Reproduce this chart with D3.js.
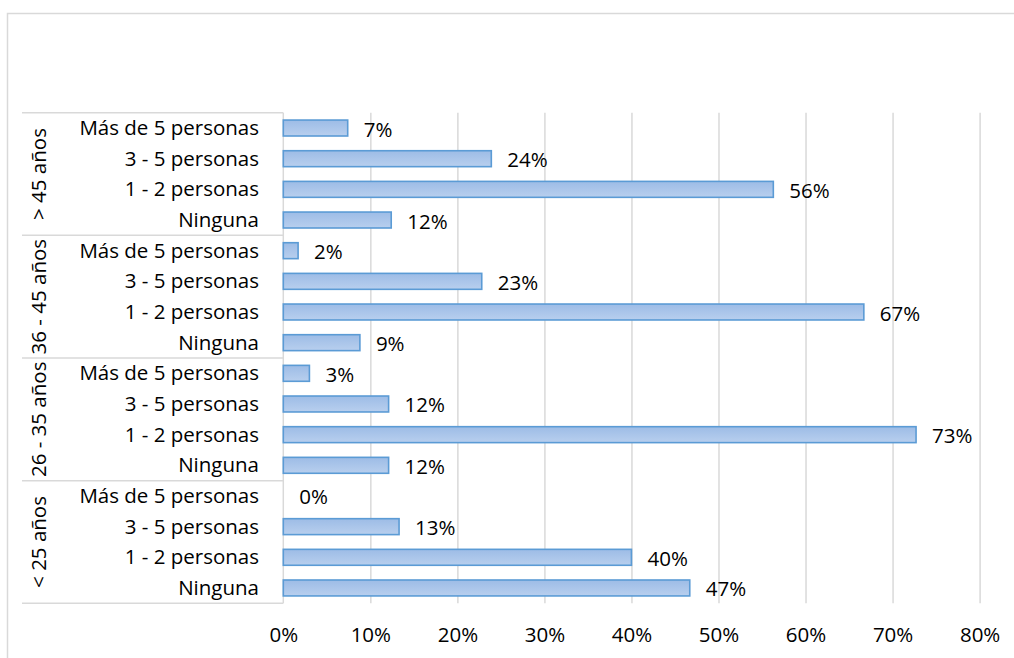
<!DOCTYPE html>
<html>
<head>
<meta charset="utf-8">
<script src="https://cdn.jsdelivr.net/npm/d3@7"></script>
<style>
  html, body { margin: 0; padding: 0; background: #fff; }
  svg { display: block; }
  text { font-family: "Open Sans", "Noto Sans", sans-serif; }
</style>
</head>
<body>
<svg id="chart" width="1014" height="658"></svg>
<script>
// ---- data (bottom-to-top order as in the source chart) ----
const groups = ["< 25 años", "26 - 35 años", "36 - 45 años", "> 45 años"];
const categories = ["Ninguna", "1 - 2 personas", "3 - 5 personas", "Más de 5 personas"];
const valuesMenos25 = [0.467, 0.400, 0.133, 0.000];
const values26a35   = [0.121, 0.727, 0.121, 0.030];
const values36a45   = [0.088, 0.667, 0.228, 0.017];
const valuesMas45   = [0.124, 0.563, 0.239, 0.074];
const tickValues = [0, 0.1, 0.2, 0.3, 0.4, 0.5, 0.6, 0.7, 0.8];

const seriesByGroup = [valuesMenos25, values26a35, values36a45, valuesMas45];

(function () {
// rows built from arrays, top to bottom
const rows = [];
for (let g = groups.length - 1; g >= 0; g--) {
  for (let c = categories.length - 1; c >= 0; c--) {
    rows.push({ key: g + "-" + c, group: groups[g], gi: g, category: categories[c], value: seriesByGroup[g][c] });
  }
}

const svg = d3.select("#chart");
const fontSize = 20.5;
const plotTop = 112.7, plotBottom = 603.3;
const labelLeft = 22, axisX = 283.3;

// outer chart border
svg.append("rect").attr("x", 7.5).attr("y", 13.5).attr("width", 1030).attr("height", 680)
  .attr("fill", "none").attr("stroke", "#d9d9d9").attr("stroke-width", 1.5);

const x = d3.scaleLinear().domain([0, 0.8]).range([axisX, 979.6]);
const y = d3.scaleBand().domain(rows.map(d => d.key)).range([plotTop, plotBottom])
  .paddingInner(0.48).paddingOuter(0.24);

// gradient for bars
const defs = svg.append("defs");
const grad = defs.append("linearGradient").attr("id", "barGrad")
  .attr("x1", 0).attr("y1", 0).attr("x2", 0).attr("y2", 1);
grad.append("stop").attr("offset", "0%").attr("stop-color", "#9dbce6");
grad.append("stop").attr("offset", "100%").attr("stop-color", "#b8cfee");

// gridlines via axis
const gridAxis = d3.axisBottom(x).tickValues(tickValues.slice(1)).tickSize(-(plotBottom - plotTop)).tickFormat("");
const gridG = svg.append("g").attr("transform", `translate(0,${plotBottom})`).call(gridAxis);
gridG.select(".domain").remove();
gridG.selectAll("line").attr("stroke", "#d9d9d9").attr("stroke-width", 1.5);

// tick labels
const labelAxis = d3.axisBottom(x).tickValues(tickValues).tickSize(0).tickPadding(0).tickFormat(d3.format(".0%"));
const labG = svg.append("g").attr("transform", `translate(0,${plotBottom})`).call(labelAxis);
labG.select(".domain").remove();
labG.selectAll("text").attr("font-family", "Open Sans").attr("font-size", fontSize)
  .attr("fill", "#000").attr("dy", null).attr("y", 39);

// category label area lines
const groupBounds = [];
for (let g = groups.length - 1; g >= 0; g--) {
  const keys = rows.filter(r => r.gi === g).map(r => r.key);
  const y0 = y(keys[0]) - y.step() * y.paddingInner() / 2;
  const y1 = y(keys[keys.length - 1]) + y.bandwidth() + y.step() * y.paddingInner() / 2;
  groupBounds.push({ g, name: groups[g], y0, y1 });
}
const lineYs = [plotTop].concat(groupBounds.map(b => b.y1));
lineYs[lineYs.length - 1] = plotBottom;
svg.append("g").selectAll("line").data(lineYs).join("line")
  .attr("x1", labelLeft).attr("x2", axisX).attr("y1", d => d).attr("y2", d => d)
  .attr("stroke", "#d9d9d9").attr("stroke-width", 1.5);
svg.append("line").attr("x1", axisX).attr("x2", axisX).attr("y1", plotTop).attr("y2", plotBottom)
  .attr("stroke", "#d9d9d9").attr("stroke-width", 1.5);

// bars
svg.append("g").selectAll("rect").data(rows.filter(d => d.value > 0)).join("rect")
  .attr("x", x(0))
  .attr("y", d => y(d.key))
  .attr("width", d => x(d.value) - x(0))
  .attr("height", y.bandwidth())
  .attr("fill", "url(#barGrad)")
  .attr("stroke", "#5b9bd5").attr("stroke-width", 1.6);

// value labels
const pct = d3.format(".0%");
svg.append("g").selectAll("text").data(rows).join("text")
  .attr("x", d => x(d.value) + 16)
  .attr("y", d => y(d.key) + y.bandwidth() / 2 + 8.5)
  .attr("font-size", fontSize).attr("fill", "#000")
  .text(d => pct(d.value));

// category labels
svg.append("g").selectAll("text").data(rows).join("text")
  .attr("x", 259)
  .attr("y", d => y(d.key) + y.bandwidth() / 2 + 7)
  .attr("text-anchor", "end")
  .attr("font-size", fontSize).attr("fill", "#000")
  .text(d => d.category);

// group labels (rotated)
svg.append("g").selectAll("text").data(groupBounds).join("text")
  .attr("transform", d => `translate(45.5,${(d.y0 + d.y1) / 2}) rotate(-90)`)
  .attr("text-anchor", "middle")
  .attr("font-size", fontSize).attr("fill", "#000")
  .text(d => d.name);
})();
</script>
</body>
</html>
